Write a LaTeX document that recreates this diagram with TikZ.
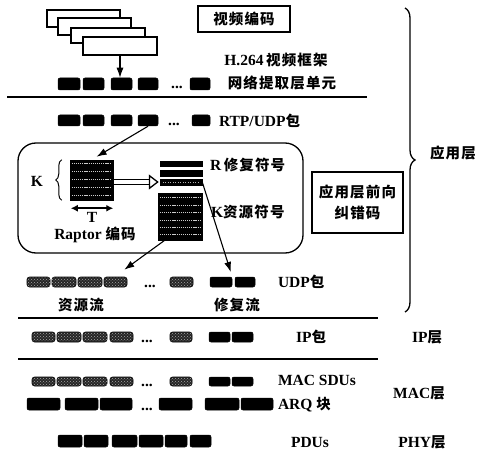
\documentclass[tikz,border=0pt]{standalone}
\usepackage{fontspec}
\setmainfont{Liberation Serif}
\newfontfamily\cjk[LetterSpace=8]{Noto Sans CJK SC}
\usetikzlibrary{arrows.meta,decorations.pathreplacing,patterns,calc}
\newcommand\zhs[1]{{\cjk\bfseries\fontsize{14.5}{18}\selectfont #1}}
\newcommand\pkt[6]{\node[#2, minimum width={#4pt-#3pt}, minimum height={#6pt-#5pt}] (#1) at ({(#3+#4)/2},{(#5+#6)/2}) {};}
\tikzset{
  blk/.style={draw=black, fill=black, rounded corners=2pt, inner sep=0pt, line width=0.5pt},
  gpk/.style={draw=black, fill=black!85, rounded corners=2.5pt, inner sep=0pt, line width=0.6pt,
     postaction={pattern=crosshatch dots, pattern color=black!35}},
  bar/.style={draw=black, fill=black, inner sep=0pt, line width=0.5pt},
  frame/.style={draw=black, fill=white, line width=1.3pt, inner sep=0pt},
  txt/.style={inner sep=0pt, outer sep=0pt},
  divline/.style={line width=1.4pt},
  arr/.style={line width=1.1pt, -{Latex[length=10pt,width=7pt]}},
  tex/.style={white!80!black, line width=0.9pt, dash pattern=on 1.2pt off 0.9pt},
}
\begin{document}
\begin{tikzpicture}[x=1pt,y=-1pt, font=\fontsize{15.5}{18}\selectfont\bfseries]
\useasboundingbox[fill=white] (0,0) rectangle (480,452);

% stacked video frames
\node[frame, minimum width=73pt, minimum height=17pt] (fr1) at (83.5,18.5) {};
\node[frame, minimum width=73pt, minimum height=17pt] (fr2) at (94.5,26.5) {};
\node[frame, minimum width=74pt, minimum height=15pt] (fr3) at (108,35.5) {};
\node[frame, minimum width=74pt, minimum height=18pt] (fr4) at (120,46) {};

% video coding box
\node[draw, line width=1.3pt, minimum width=92pt, minimum height=26pt, inner sep=0pt] (vc) at (244,19) {\zhs{视频编码}};

% NAL units
\pkt{n1}{blk}{58}{80}{78}{90}
\pkt{n2}{blk}{83}{104}{78}{90}
\pkt{n3}{blk}{111}{132}{78}{90}
\pkt{n4}{blk}{138}{158}{78}{90}
\pkt{n5}{blk}{190}{210}{78}{90}
\node[txt, anchor=base] (nd) at (177,89) {...};
\draw[arr] (fr4.south) -- (fr4.south |- n3.north);

\node[txt] (h264) at (276,60) {H.264\,\zhs{视频框架}};
\node[txt] (nal) at (282,83) {\zhs{网络提取层单元}};

\draw[divline] (7,97) -- (367,97);

% RTP packets
\pkt{r1}{blk}{58}{80}{115}{126}
\pkt{r2}{blk}{83}{104}{115}{126}
\pkt{r3}{blk}{111}{132}{115}{126}
\pkt{r4}{blk}{138}{158}{115}{126}
\pkt{r5}{blk}{192}{210}{115}{126}
\node[txt, anchor=base] (rd) at (174,126) {...};
\node[txt, anchor=west] (rtp) at (219,121) {RTP/UDP\zhs{包}};

% Raptor coding rounded box
\node[draw, rounded corners=18pt, line width=1.3pt, minimum width=285pt, minimum height=110pt, inner sep=0pt] (enc) at (160.5,198) {};

% K x T matrix
\pkt{mat}{bar}{70}{113}{160}{200}
\foreach \dy in {4,12,20,28,36}
  \draw[tex] ($(mat.north west)+(2,\dy)$) -- ($(mat.north east)+(-2,\dy)$);
\draw[decorate, decoration={brace, amplitude=6pt}, line width=1pt]
  ($(mat.south west)+(-8,0)$) -- ($(mat.north west)+(-8,0)$);
\node[txt] (klab) at (37,181) {K};
\coordinate (tl) at ($(mat.south west)+(1,8)$);
\coordinate (tr) at ($(mat.south east)+(0,8)$);
\draw[line width=1.8pt, {Latex[length=7pt,width=7pt]}-{Latex[length=7pt,width=7pt]}] (tl) -- (tr);
\node[txt] (tlab) at (92,217) {T};
\node[txt] (rap) at (95,235) {Raptor \zhs{编码}};

% repair symbols
\pkt{rb1}{bar}{160}{202}{161}{166}
\pkt{rb2}{bar}{160}{202}{170}{176}
\pkt{rb3}{bar}{160}{202}{179}{185}
\draw[white!70!black, line width=0.6pt, dash pattern=on 1pt off 1.5pt] ($(rb3.west)+(3,0)$) -- ($(rb3.east)+(-3,0)$);
\node[txt, anchor=west] (rlab) at (210,165) {R\,\zhs{修复符号}};

% source symbols
\pkt{src}{bar}{158}{202}{193}{240}
\foreach \dy in {5,12.5,20,27.5,35,42}
  \draw[tex] ($(src.north west)+(2,\dy)$) -- ($(src.north east)+(-2,\dy)$);
\node[txt, anchor=west] (klab2) at (211,212) {K\zhs{资源符号}};

% hollow arrow
\draw[double, double distance=4pt, line width=1.2pt, -{Triangle[open, length=10pt, width=15pt, line width=1.3pt]}, shorten >=1pt]
  ($(mat.east)+(1,2)$) -- ($(mat.east -| rb3.west)+(0,2)$);

% arrow from RTP to matrix
\draw[arr, shorten >=6pt] (r4.south) -- (mat.north);

% FEC box
\node[draw, line width=1.3pt, minimum width=91pt, minimum height=61pt, align=center, inner sep=0pt] (fec) at (357.5,202.5)
  {\zhs{应用层前向}\\[3pt]\zhs{纠错码}};

% UDP row
\pkt{s1}{gpk}{27}{50}{277}{287}
\pkt{s2}{gpk}{52}{76}{277}{287}
\pkt{s3}{gpk}{78}{102}{277}{287}
\pkt{s4}{gpk}{104}{127}{277}{287}
\pkt{s5}{gpk}{170}{193}{277}{287}
\pkt{p1}{blk}{210}{232}{277}{287}
\pkt{p2}{blk}{235}{255}{277}{287}
\node[txt, anchor=base] (ud) at (150,287) {...};
\node[txt, anchor=west] (udp) at (278,282) {UDP\zhs{包}};
\node[txt] (srcflow) at (81,305) {\zhs{资源流}};
\node[txt] (repflow) at (237,305) {\zhs{修复流}};

\coordinate (srcout) at ($(src.south west)+(7,0)$);
\coordinate (srcin) at ($(s4.north east)+(-3,-7)$);
\draw[arr] (srcout) -- (srcin);
\draw[arr, shorten >=5pt] (rb3.east) -- (p1.north east);

% brace application layer
\draw[decorate, decoration={brace, amplitude=10pt}, line width=1.3pt] (405,8) -- (405,312);
\node[txt] (app) at (453,153) {\zhs{应用层}};

\draw[divline] (18,318) -- (378,318);

% IP row
\pkt{i1}{gpk}{32}{55}{332}{342}
\pkt{i2}{gpk}{57}{81}{332}{342}
\pkt{i3}{gpk}{83}{107}{332}{342}
\pkt{i4}{gpk}{110}{133}{332}{342}
\pkt{i5}{gpk}{170}{192}{332}{342}
\pkt{ip1}{blk}{209}{230}{332}{342}
\pkt{ip2}{blk}{232}{253}{332}{342}
\node[txt, anchor=base] (id) at (147,342) {...};
\node[txt] (ipp) at (311,337) {IP\zhs{包}};
\node[txt] (ipl) at (427,337) {IP\zhs{层}};

\draw[divline] (18,359) -- (378,359);

% MAC SDUs
\pkt{m1}{gpk}{32}{55}{377}{386}
\pkt{m2}{gpk}{57}{81}{377}{386}
\pkt{m3}{gpk}{83}{107}{377}{386}
\pkt{m4}{gpk}{110}{133}{377}{386}
\pkt{m5}{gpk}{170}{192}{377}{386}
\pkt{mp1}{blk}{209}{230}{377}{386}
\pkt{mp2}{blk}{232}{253}{377}{386}
\node[txt, anchor=base] (md) at (147,386) {...};
\node[txt, anchor=west] (macsdu) at (278,380) {MAC SDUs};

% ARQ blocks
\pkt{q1}{blk}{27}{60}{398}{410}
\pkt{q2}{blk}{65}{98}{398}{410}
\pkt{q3}{blk}{100}{132}{398}{410}
\pkt{q4}{blk}{159}{192}{398}{410}
\pkt{q5}{blk}{205}{239}{398}{410}
\pkt{q6}{blk}{241}{273}{398}{410}
\node[txt, anchor=base] (qd) at (147,410) {...};
\node[txt, anchor=west] (arq) at (278,405) {ARQ \zhs{块}};
\node[txt] (macl) at (419,393) {MAC\zhs{层}};

% PDUs
\pkt{d1}{blk}{58}{82}{435}{447}
\pkt{d2}{blk}{84}{108}{435}{447}
\pkt{d3}{blk}{112}{137}{435}{447}
\pkt{d4}{blk}{139}{163}{435}{447}
\pkt{d5}{blk}{165}{187}{435}{447}
\pkt{d6}{blk}{190}{211}{435}{447}
\node[txt] (pdu) at (310,442) {PDUs};
\node[txt] (phy) at (422,442) {PHY\zhs{层}};
\end{tikzpicture}
\end{document}
